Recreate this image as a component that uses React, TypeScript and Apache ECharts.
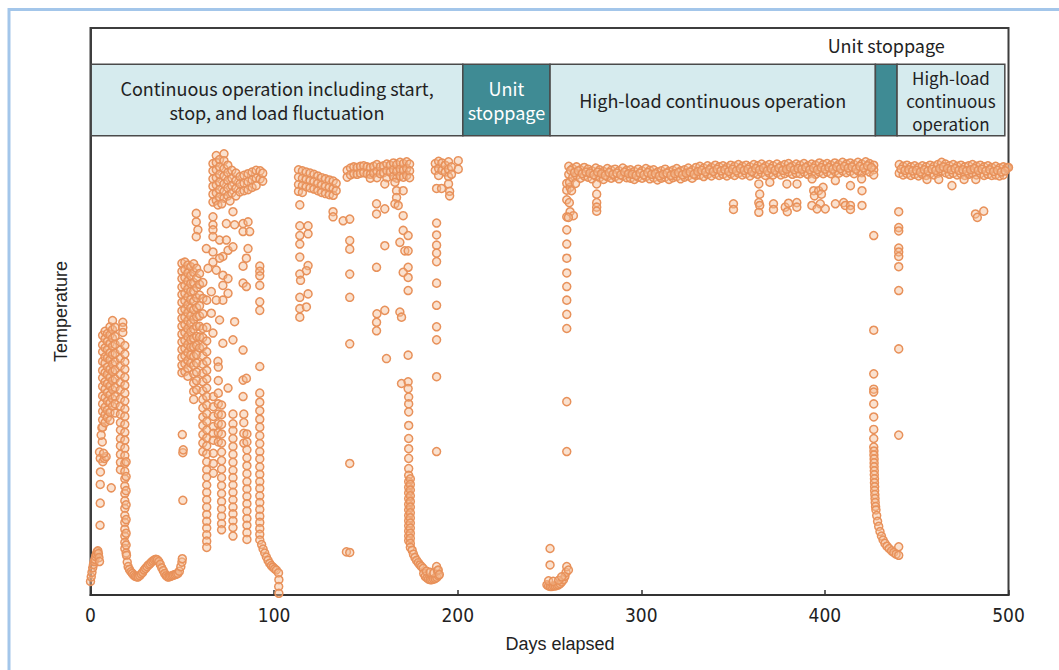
import React, { useEffect, useRef } from "react";
import * as echarts from "echarts";

type P = [number, number];

// ---- Data (x = days elapsed, y = temperature in relative units 0..100) ----
const startBump: P[] = [[0,2.4],[0.4,3.2],[0.8,4],[1.2,4.8],[1.6,5.4],[2,5.9],[2.4,6.3],[2.8,6.8],[3.2,7.2],[3.6,7.6],[4,7.8],[4.3,7.3],[4.6,6.6],[4.9,5.9]];

const earlyScatter: P[] = [[5.2,12.3],[5.3,16.2],[5.3,19.5],[5.4,21.7],[4.9,25.2],[5.3,24.1],[6.7,23.5],[7.6,24.1],[8.5,24.4],[7.1,25],[6.4,27],[5.8,28.2],[6.2,29.5],[11.3,18.9]];

const earlyCluster: P[] = [
  [6.6,45.8],[6.6,44.1],[6.6,42.9],[6.6,41.2],[6.6,39.6],[6.6,38.3],[6.6,36.8],[6.6,35.1],[6.6,33.7],[6.6,32.4],[6.6,30.9],[6.6,29.6],
  [7.9,46.5],[7.9,45.2],[7.9,43.6],[7.9,42.0],[7.9,40.9],[7.9,39.2],[7.9,37.6],[7.9,36.3],[7.9,34.8],[7.9,33.1],[7.9,31.8],[7.9,30.4],
  [9.2,46.1],[9.2,44.7],[9.2,43.3],[9.2,41.8],[9.2,40.2],[9.2,38.9],[9.2,37.3],[9.2,35.7],[9.2,34.2],[9.2,32.6],[9.2,31.3],
  [10.6,47.3],[10.6,45.9],[10.6,44.4],[10.6,42.7],[10.6,41.5],[10.6,39.8],[10.6,38.4],[10.6,36.9],[10.6,35.3],[10.6,33.9],[10.6,32.2],[10.6,30.8],
  [12.0,48.4],[12.0,46.8],[12.0,45.3],[12.0,43.9],[12.0,42.4],[12.0,40.7],[12.0,39.4],[12.0,37.8],[12.0,36.2],[12.0,34.6],[12.0,33.3],
  [13.4,47.2],[13.4,45.6],[13.4,44.2],[13.4,42.6],[13.4,41.1],[13.4,39.7],[13.4,38.1],[13.4,36.6],[13.4,35.0],[13.4,33.7],[13.4,32.1]
];

const earlyDecay: P[] = [
  [17.6,48.1],[17.6,47.2],[17.6,46.3],
  [16.3,44.6],[16.3,43.2],[16.3,41.7],[16.3,40.4],[16.3,38.9],[16.3,37.5],[16.3,36.2],[16.3,34.6],[16.3,33.3],[16.3,31.9],[16.3,30.4],[16.3,29.1],[16.3,27.6],[16.3,26.3],[16.3,24.8],[16.3,23.4],[16.3,22.1],
  [18.7,44.0],[18.7,42.5],[18.7,41.1],[18.7,39.8],[18.7,38.4],[18.7,37.0],[18.7,35.6],[18.7,34.2],[18.7,32.8],[18.7,31.5],[18.7,30.1],[18.7,28.7],[18.7,27.3],[18.7,25.9],[18.7,24.6],[18.7,23.2],[18.7,21.8],[18.7,20.5],[18.7,19.2],[18.7,17.9],[18.7,16.6],[18.7,15.3],[18.7,14.0],[18.7,12.8],[18.7,11.6],[18.7,10.4],[18.7,9.3],[18.7,8.2],
  [19.4,23.5],[19.4,20.9],[19.4,18.4],[19.4,15.9],[19.4,13.3],[19.4,10.9],[19.4,8.8],[19.4,7.4],
  [19.6,7],[20,5.8],[20.5,5],[21.2,4.5],[22,4.1],[22.8,3.8],[23.6,3.5],[24.4,3.3],[25.2,3.2],[26,3.2],[26.8,3.4],[27.6,3.7],[28.4,4],[29.2,4.4],[30,4.7],[30.8,5],[31.6,5.3],[32.4,5.5],[33.2,5.8],[34,6],[34.8,6.2],[35.6,6.3],[36.4,6.2],[37.2,5.9],[38,5.4],[38.8,4.8],[39.6,4.3],[40.4,3.8],[41.2,3.4],[42,3.2],[42.8,3.2],[43.6,3.3],[44.4,3.4],[45.2,3.5],[46,3.6],[46.8,3.7],[47.6,3.8],[48.4,4.2],[49.2,5],[49.8,5.8],[50,6.4]
];

const day50Scatter: P[] = [[50.3,16.7],[50.3,25.1],[50.5,25.6],[50,28.3]];

const midCluster: P[] = [
  [49.8,58.5],[49.8,57.1],[49.8,55.8],[49.8,54.3],[49.8,53.0],[49.8,51.6],[49.8,50.1],[49.8,48.8],[49.8,47.4],[49.8,46.0],[49.8,44.6],[49.8,43.3],[49.8,41.9],[49.8,40.5],[49.8,39.2],
  [51.4,58.7],[51.4,57.4],[51.4,56.0],[51.4,54.6],[51.4,53.2],[51.4,51.9],[51.4,50.4],[51.4,49.0],[51.4,47.7],[51.4,46.3],[51.4,44.9],[51.4,43.5],[51.4,42.2],[51.4,40.8],[51.4,39.4],
  [53.0,58.2],[53.0,56.8],[53.0,55.4],[53.0,54.0],[53.0,52.6],[53.0,51.2],[53.0,49.8],[53.0,48.4],[53.0,47.0],[53.0,45.6],[53.0,44.2],[53.0,42.8],[53.0,41.4],[53.0,40.0],[53.0,38.6],
  [54.6,57.9],[54.6,56.3],[54.6,54.9],[54.6,53.5],[54.6,52.1],[54.6,50.6],[54.6,49.2],[54.6,47.9],[54.6,46.4],[54.6,45.0],[54.6,43.7],[54.6,42.3],[54.6,40.9],
  [56.2,58.4],[56.2,56.9],[56.2,55.1],[56.2,53.6],[56.2,51.8],[56.2,50.3],[56.2,48.6],[56.2,46.9],[56.2,45.3],[56.2,43.8],[56.2,42.1],[56.2,40.5],[56.2,39.0],[56.2,37.4],[56.2,35.9],[56.2,34.5],
  [57.8,57.6],[57.8,55.9],[57.8,54.2],[57.8,52.4],[57.8,50.7],[57.8,49.1],[57.8,47.4],[57.8,45.6],[57.8,44.0],[57.8,42.4],[57.8,40.9],[57.8,39.3],[57.8,37.8],[57.8,36.2],
  [59.4,56.7],[59.4,54.8],[59.4,52.9],[59.4,51.0],[59.4,49.2],[59.4,47.4],[59.4,45.5],[59.4,43.6]
];

const peakCluster: P[] = [
  [66.7,76.1],[66.7,74.8],[66.7,73.4],[66.7,72.1],[66.7,70.7],[66.7,69.3],
  [68.5,77.5],[68.5,76.3],[68.5,75.0],[68.5,73.6],[68.5,72.3],[68.5,70.9],[68.5,69.6],
  [70.3,76.8],[70.3,75.5],[70.3,74.2],[70.3,72.8],[70.3,71.5],[70.3,70.2],
  [72.7,77.8],[72.7,76.6],[72.7,75.2],[72.7,73.9],[72.7,72.5],[72.7,71.2],[72.7,70.0],
  [74.8,75.8],[74.8,74.5],[74.8,73.1],[74.8,71.8],[74.8,70.4],
  [77.0,74.9],[77.0,73.5],[77.0,72.2],[77.0,70.9],
  [79.2,74.4],[79.2,73.1],[79.2,71.7],[79.2,70.4],
  [81.4,73.8],[81.4,72.5],[81.4,71.1],
  [83.6,74.0],[83.6,72.6],[83.6,71.3],
  [85.8,74.3],[85.8,72.9],[85.8,71.5],
  [88.0,74.6],[88.0,73.2],[88.0,71.9],
  [90.2,74.9],[90.2,73.5],[90.2,72.2],
  [92.4,74.8],[92.4,73.4],[93.8,74.4],[93.8,73.0],
  [69.4,68.8],[71.5,69.0],[76,69.5]
];

const peakScatter: P[] = [[57.6,67.3],[57.6,65.8],[58.5,64.4],[57.6,63.2],[66.7,66.7],[66.7,65.3],[66.7,64.4],[66.7,63.2],[70.3,62.6],[74,65.5],[77.6,67.6],[78.5,65.3],[83.1,65.5],[85.8,65.8],[83.1,64.1],[86.7,64.1],[74,62.6],[74.9,60.8],[77.6,61.4],[72.1,59.7],[85.8,61.1],[84.9,59.4],[83.1,58],[63.1,61.1],[66.7,60.5],[70.3,59.4],[66.7,58.7],[64,57.6],[68.5,57.3],[72.1,56.4],[74.9,55.8],[72.1,54.6],[74.9,53.2],[72.1,52],[83.1,55],[84.9,54.4],[78.5,48.2],[77.6,45],[72.1,44.4],[83.1,43.2],[69.4,41.2],[74.9,36.5],[83.1,37.9],[84.9,38.2],[83.1,35],[65.8,53.5],[68.5,52],[65.8,49.7],[70.3,48.5],[66.7,46.2]];

const dropColumns: P[] = [
  [61.2,55.1],[61.2,52.3],[61.2,49.6],[61.2,47.0],[61.2,45.4],[61.2,43.8],[61.2,42.2],[61.2,40.7],[61.2,39.1],[61.2,37.6],[61.2,36.0],[61.2,34.5],[61.2,33.0],[61.2,31.4],[61.2,29.9],[61.2,28.3],[61.2,26.8],[61.2,25.3],
  [63.3,52.0],[63.3,47.2],[63.3,44.8],[63.3,42.9],[63.3,41.2],[63.3,39.6],[63.3,38.1],[63.3,36.5],[63.3,35.0],[63.3,33.5],[63.3,32.0],[63.3,30.6],[63.3,29.1],[63.3,27.7],[63.3,26.3],[63.3,24.9],[63.3,23.5],[63.3,22.1],[63.3,20.8],[63.3,19.4],[63.3,18.1],[63.3,16.8],[63.3,15.5],[63.3,14.2],[63.3,13.0],[63.3,11.8],[63.3,10.6],[63.3,9.5],[63.3,8.4],
  [66.9,35.0],[66.9,33.2],[66.9,31.5],[66.9,29.7],[66.9,28.5],[66.9,27.3],[66.9,25.0],[66.9,23.2],[66.9,21.5],
  [69.6,40.2],[69.6,37.8],[69.6,35.6],[69.6,33.7],[69.6,31.9],[69.6,30.2],[69.6,28.6],[69.6,27.0],
  [71.4,33.5],[71.4,31.8],[71.4,30.1],[71.4,28.4],[71.4,26.8],[71.4,25.2],[71.4,23.7],[71.4,22.2],[71.4,20.7],[71.4,19.3],[71.4,17.9],[71.4,16.5],[71.4,15.2],[71.4,13.9],[71.4,12.6],[71.4,11.5],
  [77.6,31.9],[77.6,30.2],[77.6,29.0],[77.6,27.6],[77.6,26.2],[77.6,24.8],[77.6,23.4],[77.6,22.0],[77.6,20.7],[77.6,19.4],[77.6,18.1],[77.6,16.8],[77.6,15.5],[77.6,14.3],[77.6,13.1],[77.6,11.9],[77.6,10.4],
  [83.5,31.9],[83.5,30.4],[83.5,28.5],[83.5,26.8],
  [85.2,28.4],[85.2,27.0],[85.2,25.6],[85.2,24.2],[85.2,22.8],[85.2,21.4],[85.2,20.0],[85.2,18.7],[85.2,17.4],[85.2,16.1],[85.2,14.8],[85.2,13.5],[85.2,12.3],[85.2,11.0],[85.2,9.8],
  [92.2,58.0],[92.2,57.1],[92.2,56.3],[92.2,54.6],[92.2,51.7],[92.2,50.2],[92.2,40.3],[92.2,35.6],[92.2,34.0],[92.2,32.5],[92.2,31.0],[92.2,29.6],[92.2,28.1],[92.2,26.7],[92.2,25.3],[92.2,24.0],[92.2,22.6],[92.2,21.3],[92.2,20.0],[92.2,18.8],[92.2,17.5],[92.2,16.3],[92.2,15.1],[92.2,13.9],[92.2,12.8],[92.2,11.7],[92.2,10.7],[92.2,9.7],
  [93.2,8.9],[94,8.1],[94.9,7.4],[95.8,6.7],[96.7,6.1],[97.6,5.6],[98.5,5.2],[99.4,4.9],[100.3,4.6],[101.2,4.4],[102.4,3.9],[102.6,2.7],[102.5,1.5],[102.6,0.3]
];

const cluster113: P[] = [
  [113.3,75.0],[113.3,73.7],[113.3,72.4],[113.3,71.2],[115.4,74.8],[115.4,73.5],[115.4,72.2],[115.4,71.0],
  [117.5,74.6],[117.5,73.3],[117.5,72.0],[119.6,74.4],[119.6,73.1],[119.6,71.8],[121.7,74.2],[121.7,72.9],[121.7,71.6],
  [123.8,73.9],[123.8,72.6],[123.8,71.3],[125.9,73.6],[125.9,72.3],[125.9,71.0],[128.0,73.4],[128.0,72.1],[128.0,70.8],
  [130.1,73.2],[130.1,71.9],[130.1,70.6],[132.2,73.0],[132.2,71.7],[132.2,70.5],[133.8,72.6],[133.8,71.3],
  [114,68.8],[114,65.1],[118.5,65.1],[114,63.4],[118.5,63.7],[114,61.9],[114,59.6],[118.5,58.1],[117.6,57.2],[114,56.6],[114.4,55.5],[114,52.5],[118.5,53.1],[114,50.5],[117.6,50.8],[114,49],[132.1,67.6],[132.1,66.7]
];

const cluster140: P[] = [
  [139.8,74.9],[139.8,73.7],[141.6,75.3],[141.6,74.1],[143.4,75.5],[143.4,74.3],[145.2,75.4],[145.2,74.2],[147.0,75.6],[147.0,74.4],[148.8,75.7],[148.8,74.5],
  [150.6,75.5],[150.6,74.3],[152.4,75.4],[152.4,74.2],[152.4,73.5],[154.2,75.6],[154.2,74.4],[156.0,75.9],[156.0,74.7],[156.0,73.6],[157.8,75.5],[157.8,74.3],
  [159.6,75.7],[159.6,74.5],[161.4,76.0],[161.4,74.8],[161.4,73.6],[163.2,75.8],[163.2,74.6],[165.0,76.2],[165.0,75.0],[165.0,73.8],[166.8,75.9],[166.8,74.7],[166.8,73.5],
  [168.6,76.3],[168.6,75.1],[168.6,73.9],[170.4,76.1],[170.4,74.9],[170.4,73.7],[172.2,76.4],[172.2,75.2],[172.2,74.0],[173.8,76.0],[173.8,74.8],[173.8,73.6],
  [137.6,66],[141.2,66.3],[141.2,62.5],[141.2,61],[141.2,56.6],[141.2,52.5],[141.2,44.3],[141.2,23.2],[139.4,7.6],[141.2,7.5],
  [155.8,69],[155.8,67.2],[155.8,57.8],[156,49.6],[155.8,48.1],[155.8,46.6],[160.3,72.5],[160.3,68.1],[160.3,61.6],[160.3,50.2],[161.2,41.7],
  [165.8,72.8],[166.7,71.3],[166.7,70.1],[165.8,69],[167.6,68.7],[170.3,71.3],[170.3,66.9],[170.3,64.3],[173,63.4],[168.5,62.2],[171.2,60.7],[173,60.7],[173,57.8],[170.3,56.9],[173,56],[173,53.7],[168.5,49.9],[169.4,49],[173,42.3],[169.4,37.3],[173,37.6],[173,36.4]
];

const drop173: P[] = [
  [173.3,34.9],[173.3,33.7],[173.3,32.3],[173.3,29.9],[173.3,27.6],[173.3,25.8],[173.3,24.1],[173.3,22.3],[173.3,21.1],[173.3,20.0],[173.3,19.0],[173.3,18.0],[173.3,17.0],[173.3,16.0],[173.3,15.0],[173.3,14.0],[173.3,13.1],[173.3,12.2],[173.3,11.3],[173.3,10.4],[173.3,9.6],
  [174.2,20.5],[174.2,19.5],[174.2,18.5],[174.2,17.5],[174.2,16.5],[174.2,15.5],[174.2,14.5],[174.2,13.6],[174.2,12.7],[174.2,11.8],[174.2,10.9],[174.2,10.0],[174.2,9.1],[174.2,8.4],
  [175.2,7.9],[175.9,7.2],[176.7,6.6],[177.6,6.1],[178.5,5.7],[179.4,5.3],[180.3,5.0],[181.2,4.7],
  [181.5,3.8],[182.3,3.3],[183.2,3.0],[184.1,2.8],[185,2.7],[185.9,2.7],[186.8,2.8],[187.7,2.9],[188.6,3.1],[189.5,3.4],[183,4.2],[185,4.0],[187,3.9],[189,4.3],[188.5,5.0],[189.4,4.4],[190,3.6]
];

const cluster188: P[] = [
  [188.5,65.6],[188.5,63.5],[188.5,61.7],[188.5,60.3],[188.5,58.8],[188.5,55],[188.5,51.1],[188.5,47.3],[188.5,45],[188.5,38.5],[188.5,25.3],
  [187.8,76.1],[187.8,74.9],[189.6,76.5],[189.6,75.2],[189.6,74.0],[191.4,76.2],[191.4,74.9],[193.2,75.8],[193.2,74.6],[195,76.4],[195,75.1],[195,73.8],[195,72.5],[195.6,71.2],[195.6,70.4],[196.6,75.5],[196.6,74.2],[188.5,71.7],[191.2,71.7],[200.3,76.6],[200.3,75.1]
];

const restart250: P[] = [
  [250.3,8.2],[250.3,5.3],[248.6,1.8],[249.5,1.6],[250.4,1.5],[251.3,1.5],[252.2,1.6],[253.1,1.6],[254,1.7],[254.9,1.8],[255.8,2.0],[256.7,2.3],[257.6,2.7],[258.4,3.3],[259,4],[259.4,5.0],[260.3,4.4],[249.5,2.5],[252,2.4],[255,2.6],[256.6,3.2],
  [259.4,25.3],[259.4,34.1],[259.4,47],[259.4,49.5],[259.4,52],[259.4,54.4],[259.4,56.8],[259.4,59.4],[259.4,61.9],[259.4,64.4],[259.4,66.7],[261.2,67.6],[263,66.9],[259.4,69.7],[259.4,71.4],[259.4,72.6],[261.2,71.9],[262,71.3],[260.8,69.2],[260.3,66.6]
];

const plateau1: P[] = [
  [260.5,75.6],[260.5,74.2],[260.9,72.8],[262.6,75.2],[262.6,73.6],[264.7,75.5],[264.7,74.0],[264.2,72.6],[266.8,75.0],[266.8,73.5],[268.9,75.4],[268.9,73.9],
  [271.0,75.1],[271.0,73.7],[273.1,74.8],[273.1,73.4],[275.2,75.3],[275.2,73.9],[277.3,75.0],[277.3,73.6],[279.4,74.7],[279.4,73.3],[281.5,75.2],[281.5,73.8],
  [283.6,74.9],[283.6,73.5],[285.7,75.1],[285.7,73.8],[287.8,74.8],[287.8,73.4],[289.9,75.3],[289.9,73.9],[292.0,74.9],[292.0,73.6],[294.1,75.0],[294.1,73.5],
  [296.2,74.7],[296.2,73.3],[298.3,75.1],[298.3,73.7],[300.4,74.8],[300.4,73.5],[302.5,75.2],[302.5,73.8],[304.6,74.9],[304.6,73.4],[306.7,75.0],[306.7,73.6],
  [308.8,74.6],[308.8,73.2],[310.9,74.8],[310.9,73.5],[313.0,75.1],[313.0,73.7],[315.1,74.7],[315.1,73.3],[317.2,74.9],[317.2,73.6],[319.3,75.2],[319.3,73.8],
  [321.4,74.8],[321.4,73.4],[323.5,75.0],[323.5,73.7],[325.6,75.3],[325.6,73.9],[327.7,74.9],[327.7,73.5],[329.8,75.4],[329.8,74.0],[331.9,75.6],[331.9,74.1],
  [334.0,75.3],[334.0,73.8],[336.1,75.7],[336.1,74.2],[338.2,75.4],[338.2,73.9],[340.3,75.8],[340.3,74.3],[342.4,75.5],[342.4,74.0],[344.5,75.7],[344.5,74.2],
  [346.6,75.4],[346.6,73.9],[348.7,75.8],[348.7,74.3],[350.8,75.6],[350.8,74.0],[352.9,75.9],[352.9,74.4],[355.0,75.6],[355.0,74.1],[357.1,75.8],[357.1,74.3],
  [359.2,75.5],[359.2,73.9],[361.3,75.9],[361.3,74.4],[363.4,75.7],[363.4,74.2],[365.5,76.0],[365.5,74.5],[367.6,75.6],[367.6,74.0],[369.7,75.9],[369.7,74.4],
  [371.8,75.7],[371.8,74.1],[373.9,76.0],[373.9,74.5],[376.0,75.6],[376.0,74.1],[378.1,75.9],[378.1,74.3],[380.2,76.1],[380.2,74.6],[382.3,75.7],[382.3,74.2],
  [384.4,76.0],[384.4,74.4],[386.5,75.8],[386.5,74.3],[388.6,76.1],[388.6,74.6],[390.7,75.7],[390.7,74.2],[392.8,76.0],[392.8,74.5],[394.9,75.8],[394.9,74.2],
  [397.0,76.2],[397.0,74.6],[399.1,75.9],[399.1,74.3],[401.2,76.1],[401.2,74.6],[403.3,75.8],[403.3,74.3],[405.4,76.2],[405.4,74.7],[407.5,75.9],[407.5,74.4],
  [409.6,76.3],[409.6,74.8],[411.7,76.0],[411.7,74.5],[413.8,76.2],[413.8,74.7],[415.9,75.9],[415.9,74.3],[418.0,76.3],[418.0,74.8],[420.1,76.0],[420.1,74.5],
  [422.2,76.4],[422.2,74.9],[424.3,76.1],[424.3,74.6],[426.6,75.8],[426.6,75.0],[426.6,74.1]
];

const plateau1Mid: P[] = [
  [261.5,74.9],[263.6,74.5],[265.7,74.8],[267.8,74.3],[269.9,74.6],[272.0,74.4],[274.1,74.1],[276.2,74.6],[278.3,74.3],[280.4,74.0],[282.5,74.5],[284.6,74.2],
  [286.7,74.4],[288.8,74.1],[290.9,74.6],[293.0,74.3],[295.1,74.2],[297.2,74.0],[299.3,74.4],[301.4,74.1],[303.5,74.5],[305.6,74.2],[307.7,74.3],[309.8,73.9],
  [311.9,74.2],[314.0,74.4],[316.1,74.0],[318.2,74.3],[320.3,74.5],[322.4,74.1],[324.5,74.4],[326.6,74.6],[328.7,74.2],[330.8,74.7],[332.9,74.9],[335.0,74.6],
  [337.1,75.0],[339.2,74.7],[341.3,75.1],[343.4,74.8],[345.5,75.0],[347.6,74.7],[349.7,75.1],[351.8,74.8],[353.9,75.2],[356.0,74.9],[358.1,75.1],[360.2,74.7],
  [362.3,75.2],[364.4,75.0],[366.5,75.3],[368.6,74.8],[370.7,75.2],[372.8,74.9],[374.9,75.3],[377.0,74.9],[379.1,75.1],[381.2,75.4],[383.3,75.0],[385.4,75.2],
  [387.5,75.1],[389.6,75.4],[391.7,75.0],[393.8,75.3],[395.9,75.0],[398.0,75.4],[400.1,75.1],[402.2,75.4],[404.3,75.1],[406.4,75.5],[408.5,75.2],[410.6,75.6],
  [412.7,75.3],[414.8,75.5],[416.9,75.1],[419.0,75.6],[421.1,75.3],[423.2,75.7],[425.3,75.4]
];

const plateau1Dips: P[] = [[275.7,72.5],[275.7,70.7],[275.7,69.2],[275.7,68.4],[275.7,67.7],[350.2,69],[350.2,68],[364,72.5],[364.5,70.7],[364,69.2],[364.5,68.7],[364,67.5],[372,69],[372,68],[378.4,68.4],[379.5,67.6],[380.2,69.1],[384.7,69.2],[384.7,68.4],[393.9,71.3],[394.3,70.4],[396.6,71.3],[399,71.9],[398.1,70.7],[392.9,68.7],[397.5,69],[400.2,68.1],[395.7,68.1],[405.7,69],[410.2,69.2],[411.1,68.7],[413.9,68.7],[413.9,68],[420.2,68.7],[420.2,71.3],[370,72.8],[379.3,72.5],[384.8,72.5],[393,73.4],[405.7,73.1],[413.9,72.2],[420,73.4]];

const drop427: P[] = [
  [426.6,63.4],[426.6,46.7],[426.6,39],[426.6,36.3],[426.6,35.8],[426.6,33.7],[426.6,31.4],[426.6,29.2],[426.6,27.6],[426.6,26.1],
  [426.7,25.4],[426.7,24.7],[426.8,24.0],[426.8,23.3],[426.8,22.6],[426.9,21.9],[426.9,21.2],[427,20.5],[427,19.8],[427.1,19.1],[427.1,18.4],[427.2,17.7],[427.3,17.0],[427.4,16.3],[427.6,15.6],
  [427.8,15],[428.2,14],[428.7,13],[429.3,12.1],[430,11.2],[430.8,10.4],[431.7,9.7],[432.7,9.1],[433.8,8.6],[435,8.2],[436.3,7.8],[437.5,7.5],[438.8,7.2],[440.2,7.0],[440.2,8.5]
];

const restart440: P[] = [[440.2,67.6],[440.2,64.8],[440.2,64.2],[440.2,61.2],[440.2,60.5],[440.2,59.7],[440.2,57.9],[440.2,53.7],[440.2,43.4],[440.2,28.2]];

const plateau2: P[] = [
  [440.5,75.9],[440.5,74.4],[442.6,75.6],[442.6,74.1],[444.7,75.8],[444.7,74.3],[446.8,75.5],[446.8,74.0],[448.9,75.7],[448.9,74.2],[451,75.4],[451,73.9],
  [453.1,75.7],[453.1,74.2],[455.2,75.5],[455.2,74],[457.3,75.8],[457.3,74.3],[459.4,75.6],[459.4,74.1],[461.5,75.9],[461.5,74.4],[463.6,76.3],[463.6,74.8],
  [465.7,76],[465.7,74.5],[467.8,75.7],[467.8,74.2],[469.9,75.9],[469.9,74.4],[472,75.6],[472,74.1],[474.1,75.8],[474.1,74.3],[476.2,75.5],[476.2,74],
  [478.3,75.7],[478.3,74.2],[480.4,75.9],[480.4,74.4],[482.5,75.6],[482.5,74.1],[484.6,75.8],[484.6,74.3],[486.7,75.5],[486.7,74],[488.8,75.7],[488.8,74.2],
  [490.9,75.4],[490.9,74],[493,75.6],[493,74.1],[495.1,75.3],[495.1,73.9],[497.2,75.5],[497.2,74.1],[499.3,75.4],[500,75.4],
  [469.2,72.2],[482,67.2],[483,66.6],[486.5,67.7],[455.6,73.3],[462,73.3],[475.8,73.3],[482.2,73.3]
];

const plateau2Mid: P[] = [
  [441.5,75.1],[443.6,74.9],[445.7,75.0],[447.8,74.8],[449.9,74.9],[452,74.6],[454.1,75.0],[456.2,74.8],[458.3,75.1],[460.4,74.9],[462.5,75.2],[464.6,75.5],
  [466.7,75.2],[468.8,75.0],[470.9,75.2],[473,74.9],[475.1,75.0],[477.2,74.8],[479.3,75.0],[481.4,75.2],[483.5,74.9],[485.6,75.1],[487.7,74.8],[489.8,75.0],
  [491.9,74.7],[494,74.9],[496.1,74.6],[498.2,74.8]
];

// Operation phases (band row at the top)
const bandNames = [
  "Continuous operation including start,\nstop, and load fluctuation",
  "Unit\nstoppage",
  "High-load continuous operation",
  "Unit stoppage",
  "High-load\ncontinuous\noperation",
];
const bandStarts = [0.4, 202.8, 250.3, 427.5, 439.3];
const bandEnds = [202.8, 250.3, 427.5, 439.3, 498];
const bandIsStop = [false, true, false, true, false];
const bandBottom = 81.0;
const bandTop = 93.6;

const xTicks = { min: 0, max: 500, interval: 100 };

const allPoints: P[] = [
  ...startBump, ...earlyScatter, ...earlyCluster, ...earlyDecay, ...day50Scatter, ...midCluster,
  ...peakCluster, ...peakScatter, ...dropColumns, ...cluster113, ...cluster140, ...drop173,
  ...cluster188, ...restart250, ...plateau1, ...plateau1Mid, ...plateau1Dips, ...drop427,
  ...restart440, ...plateau2, ...plateau2Mid,
];

const LABEL_FONT = "'Noto Sans CJK JP', 'Noto Sans', sans-serif";
const AXIS_FONT = "'Liberation Sans', Arial, sans-serif";
const TICK_FONT = "'Liberation Sans Narrow', 'DejaVu Sans Condensed', 'Liberation Sans', sans-serif";

export default function App() {
  const ref = useRef<HTMLDivElement | null>(null);

  useEffect(() => {
    if (!ref.current) return;
    const chart = echarts.init(ref.current, undefined, { renderer: "svg" });

    const markData = bandNames.map((name, i) => {
      const stop = bandIsStop[i];
      const above = i === 3;
      const lines = name.split("\n").length;
      return [
        {
          name,
          xAxis: bandStarts[i],
          yAxis: bandBottom,
          itemStyle: {
            color: stop ? "#3f8b94" : "#d6ebee",
            borderColor: "#4a4a4a",
            borderWidth: 1.5,
            opacity: 1,
          },
          label: {
            show: true,
            position: above ? "top" : "inside",
            distance: 7,
            color: stop && !above ? "#ffffff" : "#222222",
            fontSize: lines === 3 ? 17 : 18,
            lineHeight: lines === 3 ? 23 : 24,
            fontFamily: LABEL_FONT,
            align: "center",
          },
        },
        { xAxis: bandEnds[i], yAxis: bandTop },
      ];
    });

    chart.setOption({
      animation: false,
      backgroundColor: "#ffffff",
      graphic: [
        {
          type: "rect",
          silent: true,
          shape: { x: 9, y: 9.5, width: 1200, height: 1000 },
          style: { fill: "transparent", stroke: "#a3c6ea", lineWidth: 3 },
        },
      ],
      grid: {
        left: 90.5,
        right: 50.5,
        top: 28,
        bottom: 75,
        show: true,
        borderColor: "#3d3d3d",
        borderWidth: 2,
        backgroundColor: "transparent",
      },
      xAxis: {
        type: "value",
        min: xTicks.min,
        max: xTicks.max,
        interval: xTicks.interval,
        splitLine: { show: false },
        axisLine: { show: true, lineStyle: { color: "#333", width: 2 } },
        axisTick: { show: true, inside: true, length: 5, lineStyle: { color: "#333", width: 1.5 } },
        axisLabel: { fontSize: 19, fontFamily: TICK_FONT, color: "#222", margin: 10 },
        name: "Days elapsed",
        nameLocation: "middle",
        nameGap: 40,
        nameTextStyle: { fontSize: 18, fontFamily: AXIS_FONT, color: "#222", padding: [0, 0, 0, 21] },
      },
      yAxis: {
        type: "value",
        min: 0,
        max: 100,
        splitLine: { show: false },
        axisLine: { show: true, lineStyle: { color: "#3d3d3d", width: 2 } },
        axisTick: { show: false },
        axisLabel: { show: false },
        name: "Temperature",
        nameLocation: "middle",
        nameGap: 21,
        nameRotate: 90,
        nameTextStyle: { fontSize: 18, fontFamily: AXIS_FONT, color: "#222" },
      },
      series: [
        {
          type: "scatter",
          data: allPoints,
          symbol: "circle",
          symbolSize: 8,
          itemStyle: { color: "rgba(244,188,148,0.45)", borderColor: "#e8915a", borderWidth: 1.5, opacity: 1 },
          emphasis: { disabled: true },
          markArea: { silent: true, data: markData },
        },
      ],
    });

    return () => chart.dispose();
  }, []);

  return (
    <div
      ref={ref}
      style={{ position: "absolute", left: 0, top: 0, width: 1059, height: 670, background: "#fff" }}
    />
  );
}
